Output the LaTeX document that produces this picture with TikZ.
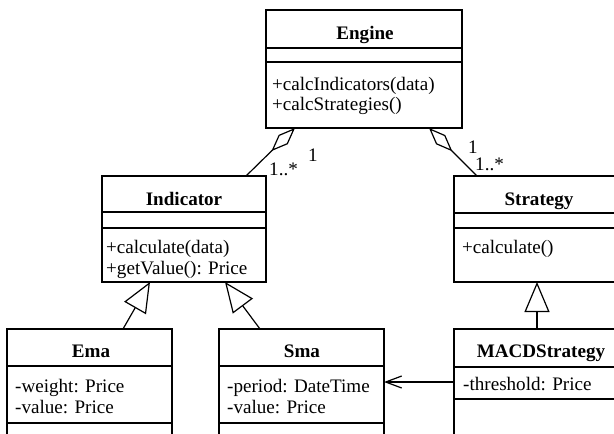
\documentclass[tikz,border=0pt]{standalone}
\usepackage{fontspec}
\setmainfont{Liberation Serif}
\usetikzlibrary{arrows.meta}
\begin{document}
\begin{tikzpicture}[x=1pt,y=-1pt,
  cls/.style={draw, line width=1.2pt, rectangle, anchor=north west, inner sep=0pt, outer sep=0pt},
  ttl/.style={anchor=base, inner sep=0pt, font=\fontsize{19.1}{20}\selectfont\bfseries},
  mem/.style={anchor=base west, inner sep=0pt, font=\fontsize{19.1}{20}\selectfont},
  mult/.style={anchor=base west, inner sep=0pt, font=\fontsize{19.1}{20}\selectfont},
  div/.style={line width=1.2pt},
  conn/.style={line width=1.2pt},
  agg/.style={conn, {Diamond[open,length=33pt,width=13pt]}-},
  inh/.style={conn, -{Triangle[open,length=30pt,width=25pt]}},
  dep/.style={conn, -{Straight Barb[length=16pt,width=12pt]}}
]
\useasboundingbox (0,0) rectangle (614,434);
\clip (0,0) rectangle (614,434);

% Engine
\node[cls, minimum width=196pt, minimum height=118pt] (engine) at (266,10) {};
\draw[div] (266,48) -- (462,48);
\draw[div] (266,62) -- (462,62);
\node[ttl] (engineT) at (365,39) {Engine};
\node[mem] (engineM1) at (272,90) {+calcIndicators(data)};
\node[mem] (engineM2) at (272,110) {+calcStrategies()};

% Indicator
\node[cls, minimum width=164pt, minimum height=106pt] (indicator) at (102,176) {};
\draw[div] (102,212) -- (266,212);
\draw[div] (102,228) -- (266,228);
\node[ttl] (indicatorT) at (184,205) {Indicator};
\node[mem] (indicatorM1) at (106,253) {+calculate(data)};
\node[mem] (indicatorM2) at (106,274) {+getValue(): Price};

% Strategy
\node[cls, minimum width=170pt, minimum height=106pt] (strategy) at (454,176) {};
\draw[div] (454,213) -- (624,213);
\draw[div] (454,228) -- (624,228);
\node[ttl] (strategyT) at (539,205) {Strategy};
\node[mem] (strategyM1) at (462,253) {+calculate()};

% Ema
\node[cls, minimum width=165pt, minimum height=130pt] (ema) at (7,329) {};
\draw[div] (7,366) -- (172,366);
\draw[div] (7,423) -- (172,423);
\node[ttl] (emaT) at (91,357) {Ema};
\node[mem] (emaA1) at (15,392) {-weight: Price};
\node[mem] (emaA2) at (15,413) {-value: Price};

% Sma
\node[cls, minimum width=165pt, minimum height=130pt] (sma) at (219,329) {};
\draw[div] (219,366) -- (384,366);
\draw[div] (219,423) -- (384,423);
\node[ttl] (smaT) at (302,357) {Sma};
\node[mem] (smaA1) at (227,392) {-period: DateTime};
\node[mem] (smaA2) at (227,413) {-value: Price};

% MACDStrategy
\node[cls, minimum width=170pt, minimum height=130pt] (macd) at (454,329) {};
\draw[div] (454,367) -- (624,367);
\draw[div] (454,399) -- (624,399);
\node[ttl] (macdT) at (541,357) {MACDStrategy};
\node[mem] (macdA1) at (463,390) {-threshold: Price};

% aggregations
\draw[agg] ([xshift=29pt]engine.south west) -- ([xshift=144pt]indicator.north west);
\draw[agg] ([xshift=163pt]engine.south west) -- ([xshift=23pt]strategy.north west);
\node[mult] (m1) at (308,161) {1};
\node[mult] (m2) at (269,175) {1..*};
\node[mult] (m3) at (468,153) {1};
\node[mult] (m4) at (475,170) {1..*};

% generalizations
\draw[inh] ([xshift=116pt]ema.north west) -- ([xshift=48pt]indicator.south west);
\draw[inh] ([xshift=41pt]sma.north west) -- ([xshift=123pt]indicator.south west);
\draw[inh] ([xshift=83pt]macd.north west) -- ([xshift=83pt]strategy.south west);

% dependency
\draw[dep] ([yshift=-53pt]macd.north west) -- ([yshift=-53pt]sma.north east);
\end{tikzpicture}
\end{document}
